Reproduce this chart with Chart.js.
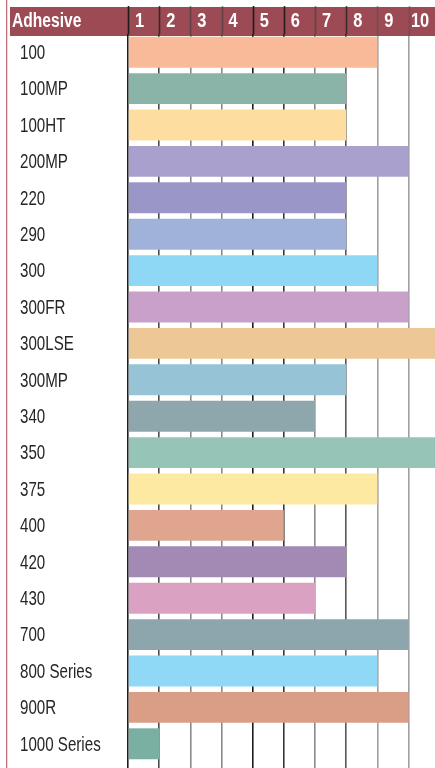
<!DOCTYPE html>
<html>
<head>
<meta charset="utf-8">
<title>Adhesive ratings</title>
<script src="https://cdn.jsdelivr.net/npm/chart.js@4.4.1/dist/chart.umd.min.js"></script>
<style>
  html, body { margin: 0; padding: 0; background: #ffffff; overflow: hidden; }
  #wrap { position: relative; width: 435px; height: 768px; }
</style>
</head>
<body>
<div id="wrap"><canvas id="adhesiveChart"></canvas></div>
<script>
var adhesives = ["100", "100MP", "100HT", "200MP", "220", "290", "300", "300FR", "300LSE", "300MP",
  "340", "350", "375", "400", "420", "430", "700", "800 Series", "900R", "1000 Series"];
var ratings = [8, 7, 7, 9, 7, 7, 8, 9, 10, 7, 6, 10, 8, 5, 7, 6, 9, 8, 9, 1];
var barColors = ["#f8ba98", "#89b4a7", "#fddea0", "#a9a0cd", "#9a97c8", "#a0b2da", "#8fd8f5", "#c8a0ca",
  "#edc796", "#97c3d7", "#8ea7ad", "#96c5b8", "#fde9a2", "#dfa58e", "#a28ab5", "#dba1c3",
  "#8da6ad", "#8fd8f6", "#da9e86", "#7ab0a2"];
var headerLabels = ["1", "2", "3", "4", "5", "6", "7", "8", "9", "10"];
var headerTitle = "Adhesive";

// darker and lighter rules alternate across the grid
var gridColors = ["#1c1c1c", "rgba(30,30,30,0.8)", "rgba(60,60,60,0.6)", "rgba(60,60,60,0.6)",
  "#1c1c1c", "rgba(20,20,20,0.85)", "rgba(60,60,60,0.6)", "rgba(30,30,30,0.75)",
  "rgba(80,80,80,0.55)", "rgba(80,80,80,0.55)"];

var labelFont = "'Liberation Sans', Arial, sans-serif";

// no narrow face installed, so squash the regular one
function narrowText(ctx, text, x, y, squeeze) {
  ctx.save();
  ctx.translate(x, y);
  ctx.scale(squeeze, 1);
  ctx.fillText(text, 0, 0);
  ctx.restore();
}

var headerPlugin = {
  id: "headerBand",
  beforeDraw: function (chart) {
    var ctx = chart.ctx;
    ctx.save();
    // left red rule
    ctx.fillStyle = "#c4707a";
    ctx.fillRect(6, 0, 1.3, chart.height);
    // header band
    ctx.fillStyle = "#9c4b55";
    ctx.fillRect(10, 7, chart.width - 10, 29);
    ctx.restore();
  },
  afterDraw: function (chart) {
    var ctx = chart.ctx;
    var xScale = chart.scales.x;
    var yScale = chart.scales.y;
    var top = chart.chartArea.top;
    ctx.save();
    // continue the grid rules up through the header
    xScale.ticks.forEach(function (tick, i) {
      var px = Math.round(xScale.getPixelForValue(tick.value)) + 0.5;
      ctx.strokeStyle = gridColors[i % gridColors.length];
      ctx.lineWidth = 1.6;
      ctx.beginPath();
      ctx.moveTo(px, 6);
      ctx.lineTo(px, top);
      ctx.stroke();
    });

    ctx.textBaseline = "middle";
    ctx.fillStyle = "#ffffff";
    ctx.font = "bold 20px " + labelFont;
    ctx.textAlign = "left";
    narrowText(ctx, headerTitle, 12, 21, 0.78);
    ctx.textAlign = "center";
    headerLabels.forEach(function (label, i) {
      var px = xScale.getPixelForValue(i + 0.5) - 4;
      narrowText(ctx, label, px, 21, 0.82);
    });

    // category names down the left column
    ctx.fillStyle = "#262626";
    ctx.font = "21px " + labelFont;
    ctx.textAlign = "left";
    adhesives.forEach(function (name, i) {
      var py = yScale.getPixelForValue(i) + 1;
      narrowText(ctx, name, 20, py, 0.72);
    });
    ctx.restore();
  }
};

document.addEventListener("DOMContentLoaded", function () {
  var canvas = document.getElementById("adhesiveChart");
  canvas.width = 435;
  canvas.height = 768;
  var ctx = canvas.getContext("2d");

  var adhesiveChart = new Chart(ctx, {
    type: "bar",
    data: {
      labels: adhesives,
      datasets: [
        {
          label: "Rating",
          data: ratings,
          backgroundColor: barColors,
          borderWidth: 0,
          barPercentage: 0.85,
          categoryPercentage: 1.0,
        },
      ],
    },
    options: {
      indexAxis: "y",
      responsive: false,
      animation: false,
      devicePixelRatio: 1,
      layout: {
        padding: { top: 34, left: 20, right: 0, bottom: 0 },
      },
      scales: {
        x: {
          type: "linear",
          position: "bottom",
          min: 0,
          max: 9.85,
          z: 1,
          border: { display: false },
          grid: {
            color: gridColors,
            lineWidth: 1.6,
            drawTicks: true,
            tickLength: 6,
          },
          ticks: {
            display: false,
            stepSize: 1,
            includeBounds: false,
          },
        },
        y: {
          border: { display: false },
          grid: { display: false, drawTicks: false },
          afterFit: function (scale) {
            scale.width = 108;
          },
          ticks: { display: false },
        },
      },
      plugins: {
        legend: { display: false },
        tooltip: { enabled: false },
      },
    },
    plugins: [headerPlugin],
  });
});
</script>
</body>
</html>
